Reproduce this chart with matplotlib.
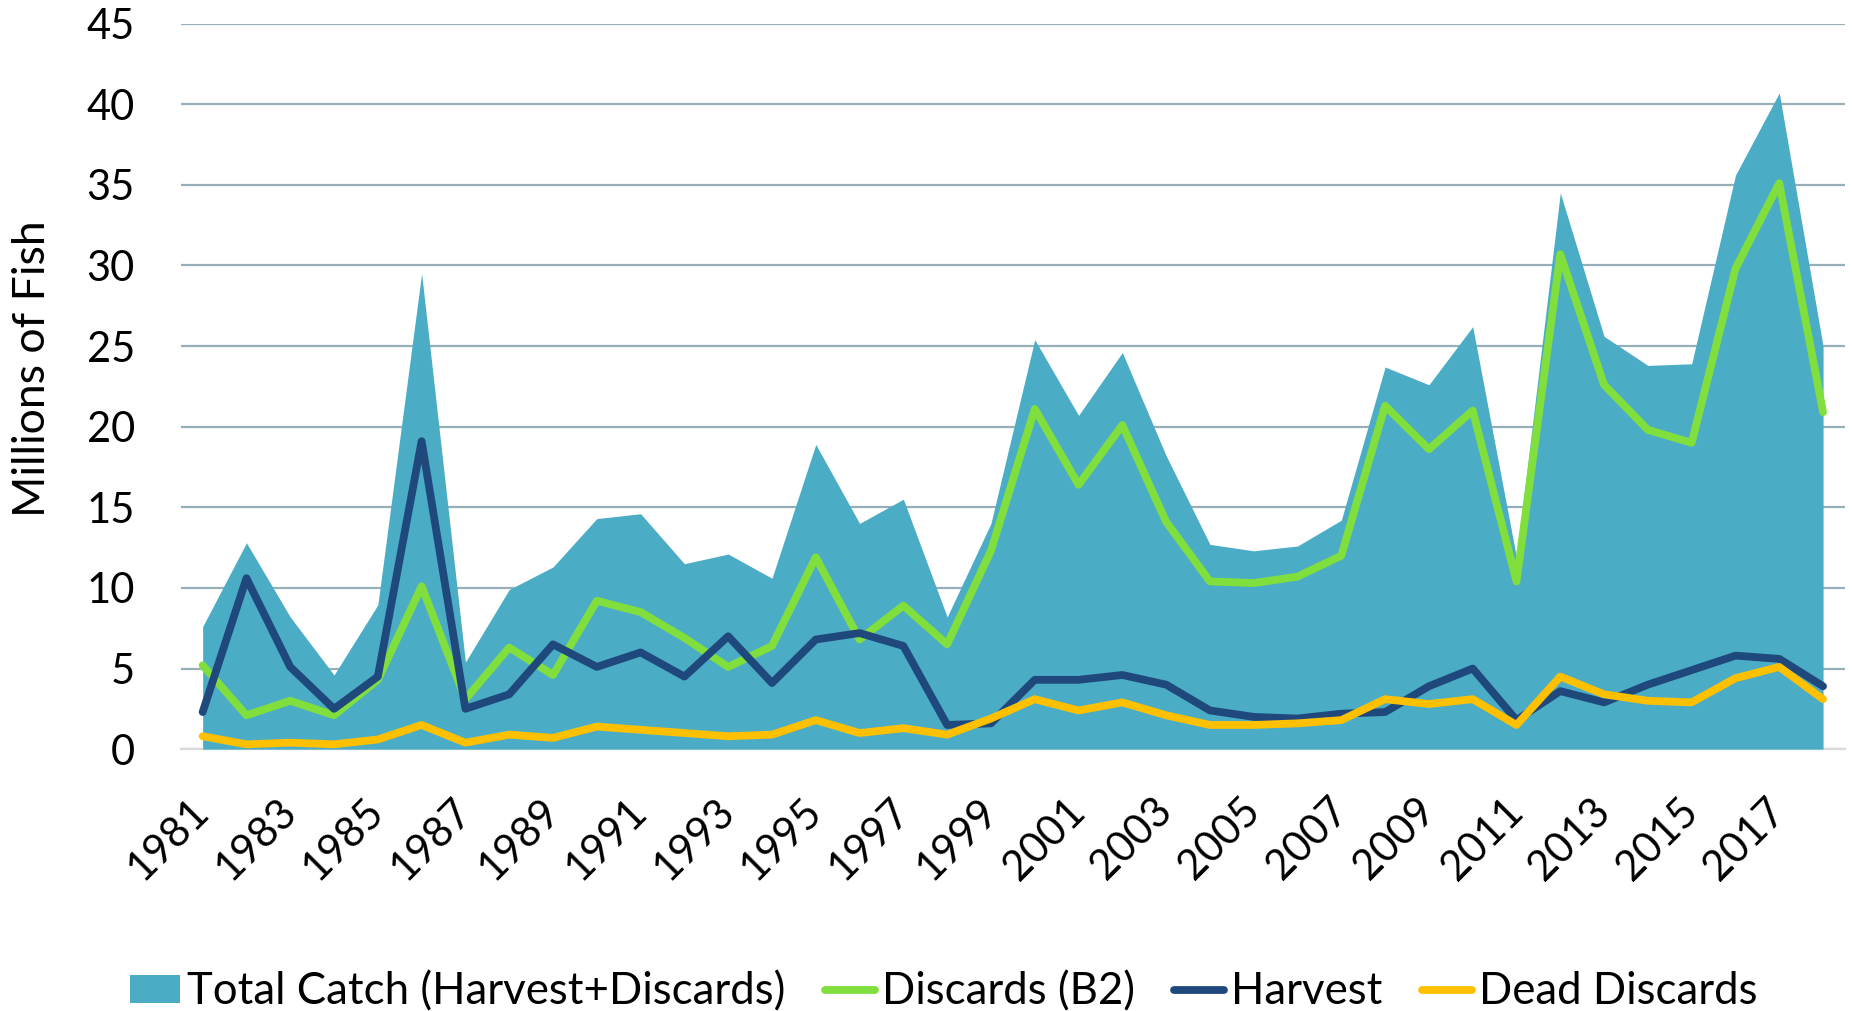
import matplotlib
matplotlib.use("Agg")
import matplotlib.pyplot as plt
import numpy as np

# Recreational catch series, millions of fish
years = list(range(1981, 2019))
total_catch = [7.6, 12.8, 8.2, 4.6, 8.95, 29.5, 5.4, 9.9, 11.3, 14.3,
               14.6, 11.5, 12.1, 10.6, 18.9, 14.0, 15.5, 8.2, 14.0, 25.4,
               20.7, 24.6, 18.2, 12.7, 12.3, 12.6, 14.2, 23.7, 22.6, 26.2,
               11.9, 34.5, 25.6, 23.8, 23.9, 35.6, 40.7, 25.0]
discards_b2 = [5.2, 2.1, 3.0, 2.1, 4.3, 10.1, 3.1, 6.3, 4.6, 9.2,
               8.5, 6.9, 5.1, 6.4, 11.9, 6.8, 8.9, 6.5, 12.3, 21.1,
               16.4, 20.1, 14.1, 10.4, 10.3, 10.7, 12.0, 21.3, 18.6, 21.0,
               10.4, 30.7, 22.6, 19.8, 19.0, 29.8, 35.1, 20.9]
harvest = [2.3, 10.6, 5.1, 2.5, 4.5, 19.1, 2.5, 3.4, 6.5, 5.1,
           6.0, 4.5, 7.0, 4.1, 6.8, 7.2, 6.4, 1.5, 1.6, 4.3,
           4.3, 4.6, 4.0, 2.4, 2.0, 1.9, 2.2, 2.3, 3.9, 5.0,
           1.8, 3.6, 2.9, 4.0, 4.9, 5.8, 5.6, 3.9]
dead_discards = [0.8, 0.3, 0.4, 0.3, 0.6, 1.5, 0.4, 0.9, 0.7, 1.4,
                 1.2, 1.0, 0.8, 0.9, 1.8, 1.0, 1.3, 0.9, 1.9, 3.1,
                 2.4, 2.9, 2.1, 1.5, 1.5, 1.6, 1.8, 3.1, 2.8, 3.1,
                 1.5, 4.5, 3.4, 3.0, 2.9, 4.4, 5.1, 3.1]
y_ticks = [0, 5, 10, 15, 20, 25, 30, 35, 40, 45]

plt.rcParams['font.family'] = ['Lato', 'DejaVu Sans']

fig = plt.figure(figsize=(18.52, 10.11), dpi=100)
ax = fig.add_axes([0.0976, 0.259, 0.8986, 0.7177])

x = np.arange(len(years))
LW = 5.6

ax.fill_between(x, 0, total_catch, color='#4BACC6', linewidth=0,
                label='Total Catch (Harvest+Discards)', zorder=2)
ax.plot(x, discards_b2, color='#80DF3C', lw=LW, solid_joinstyle='round',
        solid_capstyle='round', label='Discards (B2)', zorder=3)
ax.plot(x, harvest, color='#1F497D', lw=LW, solid_joinstyle='round',
        solid_capstyle='round', label='Harvest', zorder=4)
ax.plot(x, dead_discards, color='#FFC000', lw=LW, solid_joinstyle='round',
        solid_capstyle='round', label='Dead Discards', zorder=5)

ax.set_xlim(-0.5, len(years) - 0.5)
ax.set_ylim(0, 45)
ax.set_yticks(y_ticks)
ax.set_yticklabels([str(v) for v in y_ticks], fontsize=30)
ax.yaxis.grid(True, color='#98AEB9', lw=1.6, zorder=0)
ax.set_axisbelow(True)

tick_idx = x[::2]
ax.set_xticks(tick_idx)
ax.set_xticklabels([str(years[i]) for i in tick_idx], fontsize=30)
for lab in ax.get_xticklabels():
    lab.set_rotation(45)
    lab.set_ha('right')
    lab.set_va('center')
    lab.set_rotation_mode('anchor')

ax.tick_params(axis='both', length=0)
ax.tick_params(axis='y', pad=33)
ax.tick_params(axis='x', pad=40)

for side in ('left', 'right', 'top'):
    ax.spines[side].set_visible(False)
ax.spines['bottom'].set_color('#D9D9D9')
ax.spines['bottom'].set_linewidth(1.6)
ax.spines['bottom'].set_zorder(1)

ax.set_ylabel('Millions of Fish', fontsize=32)
ax.yaxis.set_label_coords(-0.077, 0.525)

leg = fig.legend(loc='center', bbox_to_anchor=(0.5095, 0.019), ncol=4,
                 frameon=False, fontsize=31.5, handlelength=1.15,
                 handleheight=0.6, handletextpad=0.15, columnspacing=0.9,
                 borderaxespad=0, borderpad=0)

fig.savefig('out.png', dpi=100)
